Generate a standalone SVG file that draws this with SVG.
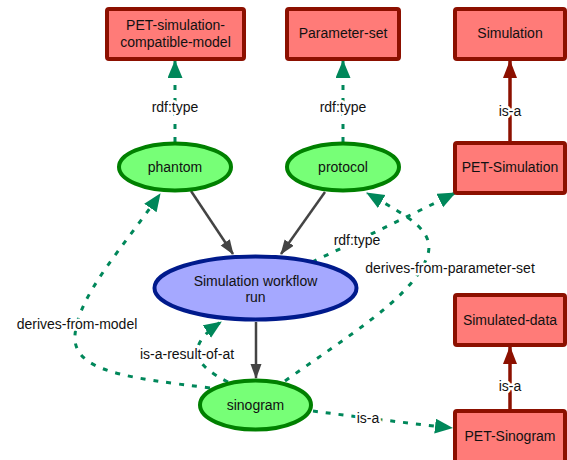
<svg xmlns="http://www.w3.org/2000/svg" width="567" height="460" viewBox="0 0 567 460">
<style>
text{font-family:"Liberation Sans",Arial,sans-serif;font-size:14px;fill:#111;text-anchor:middle}
.box{fill:#ff7b78;stroke:#8c1000;stroke-width:4}
.ell{fill:#77ff77;stroke:#008000;stroke-width:4}
.blue{fill:#a5a8ff;stroke:#001a8c;stroke-width:4}
.dg{fill:none;stroke:#00875a;stroke-width:3;stroke-dasharray:5 8;marker-end:url(#ag)}
.gr{fill:none;stroke:#444;stroke-width:2.5;marker-end:url(#ak)}
.rd{fill:none;stroke:#8c1000;stroke-width:3.5;marker-end:url(#ar)}
.lbl{stroke:#fff;stroke-width:5;paint-order:stroke;stroke-linejoin:round}
</style>
<defs>
<marker id="ag" markerUnits="userSpaceOnUse" markerWidth="20" markerHeight="16" refX="17" refY="7.5" orient="auto"><path d="M0,0 L18,7.5 L0,15 z" fill="#00875a"/></marker>
<marker id="ak" markerUnits="userSpaceOnUse" markerWidth="16" markerHeight="12" refX="14" refY="5.5" orient="auto"><path d="M0,0 L15,5.5 L0,11 z" fill="#444"/></marker>
<marker id="ar" markerUnits="userSpaceOnUse" markerWidth="20" markerHeight="16" refX="17" refY="7" orient="auto"><path d="M0,0 L18,7 L0,14 z" fill="#8c1000"/></marker>
</defs>
<g id="connectors">
<path class="dg" d="M175,142 L175,61"/>
<path class="dg" d="M343,142 L343,61"/>
<path class="rd" d="M510,143 L510,61"/>
<path class="rd" d="M510,411 L510,347"/>
<path class="gr" d="M191,191 L233,254"/>
<path class="gr" d="M325,192 L281,254"/>
<path class="gr" d="M256,322 L256,378"/>
<path class="dg" d="M210,388 C130,378 72,372 75,335 C78,295 125,245 160,194"/>
<path class="dg" d="M228,382 C196,366 182,348 221,322"/>
<path class="dg" d="M312,262 Q385,228 455,193"/>
<path class="dg" d="M285,381 C345,338 408,300 425,262 C440,232 410,218 367,193"/>
<path class="dg" d="M313,411 Q380,420 452,428"/>
<text class="lbl" x="175" y="112">rdf:type</text>
<text class="lbl" x="343" y="112">rdf:type</text>
<text class="lbl" x="510" y="116">is-a</text>
<text class="lbl" x="510" y="391">is-a</text>
<text class="lbl" x="357" y="245">rdf:type</text>
<text class="lbl" x="450" y="273">derives-from-parameter-set</text>
<text class="lbl" x="77" y="329">derives-from-model</text>
<text class="lbl" x="187" y="359">is-a-result-of-at</text>
<text class="lbl" x="368" y="423">is-a</text>
</g>
<g id="pet-simulation-compatible-model"><rect class="box" x="107" y="9" width="137" height="50" rx="2"/><text x="175.5" y="30">PET-simulation-</text><text x="175.5" y="47">compatible-model</text></g>
<g id="parameter-set"><rect class="box" x="287" y="9" width="112" height="50" rx="2"/><text x="343" y="38">Parameter-set</text></g>
<g id="simulation"><rect class="box" x="455" y="9" width="110" height="50" rx="2"/><text x="510" y="38">Simulation</text></g>
<g id="pet-simulation"><rect class="box" x="455" y="143" width="110" height="50" rx="2"/><text x="510" y="172">PET-Simulation</text></g>
<g id="simulated-data"><rect class="box" x="455" y="295" width="110" height="50" rx="2"/><text x="510" y="325">Simulated-data</text></g>
<g id="pet-sinogram"><rect class="box" x="455" y="411" width="110" height="52" rx="2"/><text x="510" y="441">PET-Sinogram</text></g>
<g id="phantom"><ellipse class="ell" cx="175" cy="167" rx="56" ry="23.5"/><text x="175" y="172">phantom</text></g>
<g id="protocol"><ellipse class="ell" cx="343" cy="167" rx="56" ry="23.5"/><text x="343" y="172">protocol</text></g>
<g id="simulation-workflow-run"><ellipse class="blue" cx="255.5" cy="288" rx="101" ry="31.5"/><text x="255.5" y="286">Simulation workflow</text><text x="255.5" y="302">run</text></g>
<g id="sinogram"><ellipse class="ell" cx="255.5" cy="405" rx="55.5" ry="24.5"/><text x="255.5" y="410">sinogram</text></g>
</svg>
